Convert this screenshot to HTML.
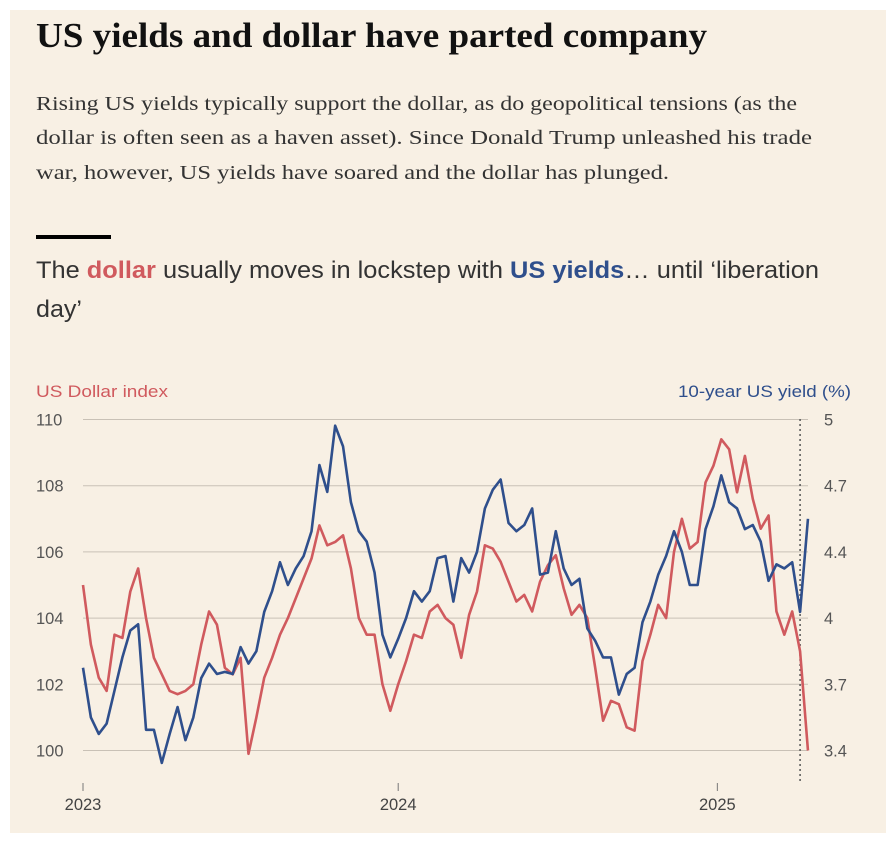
<!DOCTYPE html>
<html><head><meta charset="utf-8">
<style>
body{margin:0;background:#fff;width:896px;height:844px;overflow:hidden}
#panel{position:absolute;left:10px;top:10px;width:876px;height:823px;background:#f8f0e4}
#bar{position:absolute;left:26px;top:225px;width:75px;height:4px;background:#000}
svg{position:absolute;left:0;top:0}
</style></head><body>
<div id="panel">
<div id="bar"></div>
</div>
<svg id="chart" width="896" height="844">
<text x="36" y="47" textLength="671" lengthAdjust="spacingAndGlyphs" font-family="Liberation Serif,serif" font-weight="bold" font-size="35" fill="#111">US yields and dollar have parted company</text>
<g font-family="Liberation Serif,serif" font-size="20.5" fill="#333">
<text x="36" y="110" textLength="761" lengthAdjust="spacingAndGlyphs">Rising US yields typically support the dollar, as do geopolitical tensions (as the</text>
<text x="36" y="144" textLength="776" lengthAdjust="spacingAndGlyphs">dollar is often seen as a haven asset). Since Donald Trump unleashed his trade</text>
<text x="36" y="179" textLength="633" lengthAdjust="spacingAndGlyphs">war, however, US yields have soared and the dollar has plunged.</text>
</g>
<g font-family="Liberation Sans,sans-serif" font-size="24" fill="#333">
<text x="36" y="278" textLength="783" lengthAdjust="spacingAndGlyphs">The <tspan fill="#d05a5e" font-weight="bold">dollar</tspan> usually moves in lockstep with <tspan fill="#2f4f8c" font-weight="bold">US yields</tspan>… until ‘liberation</text>
<text x="36" y="317" textLength="46" lengthAdjust="spacingAndGlyphs">day’</text>
</g>
</svg>
<script>
const dollar=[105.0,103.2,102.2,101.8,103.5,103.4,104.8,105.5,104.0,102.8,102.3,101.8,101.7,101.8,102.0,103.2,104.2,103.8,102.5,102.3,102.8,99.9,101.0,102.2,102.8,103.5,104.0,104.6,105.2,105.8,106.8,106.2,106.3,106.5,105.5,104.0,103.5,103.5,102.0,101.2,
102.0,102.7,103.5,103.4,104.2,104.4,104.0,103.8,102.8,104.1,104.8,106.2,106.1,105.7,105.1,104.5,104.7,104.2,105.1,105.6,105.9,104.9,104.1,104.4,104.0,102.5,100.9,101.5,101.4,100.7,100.6,102.7,103.5,104.4,104.0,106.0,107.0,106.1,106.3,108.1,108.6,109.4,109.1,107.8,108.9,107.6,106.7,107.1,104.2,103.5,104.2,103.0,100.0];
const yields=[3.80,3.56,3.48,3.53,3.69,3.85,3.98,4.01,3.50,3.50,3.34,3.48,3.61,3.45,3.56,3.75,3.82,3.77,3.78,3.77,3.90,3.82,3.88,4.07,4.17,4.31,4.20,4.28,4.34,4.46,4.78,4.65,4.97,4.87,4.60,4.46,4.41,4.26,3.96,3.85,
3.94,4.04,4.17,4.12,4.17,4.33,4.34,4.12,4.33,4.26,4.36,4.57,4.66,4.71,4.50,4.46,4.49,4.57,4.25,4.26,4.46,4.28,4.20,4.23,3.99,3.93,3.85,3.85,3.67,3.77,3.80,4.02,4.12,4.25,4.34,4.46,4.36,4.20,4.20,4.47,4.58,4.73,4.60,4.57,4.47,4.49,4.41,4.22,4.30,4.28,4.31,4.07,4.52];
const leftTicks=[100,102,104,106,108,110];
const rightTickLabels=["3.4","3.7","4","4.4","4.7","5"];
const yearLabels=["2023","2024","2025"];
const yearIndex=[0,40,80.5];
const liberationIndex=91;

const NS="http://www.w3.org/2000/svg";
const svg=document.getElementById('chart');
const X0=83,STEP=7.88,YTOP=419.5,YBOT=750.5;
const xs=i=>X0+i*STEP;
const yL=v=>YBOT-(v-100)/10*(YBOT-YTOP);
const yR=v=>YBOT-(v-3.4)/1.6*(YBOT-YTOP);
function mk(tag,a){const e=document.createElementNS(NS,tag);for(const k in a)e.setAttribute(k,a[k]);svg.appendChild(e);return e;}
const F='"Liberation Sans",sans-serif';
leftTicks.forEach((v,i)=>{
 const g=mk('line',{x1:83,x2:808,y1:yL(v),y2:yL(v),stroke:'#c9c1b6','stroke-width':1});
 
 
 const t=mk('text',{x:36,y:yL(v)+6,fill:'#555','font-family':F,'font-size':16.5});
 t.textContent=v;
 
 
 const r=mk('text',{x:824,y:yL(v)+6,fill:'#555','font-family':F,'font-size':16.5});
 r.textContent=rightTickLabels[i];
 
 
});
yearLabels.forEach((l,i)=>{
 const x=xs(yearIndex[i]);
 const tk=mk('line',{x1:x,x2:x,y1:783,y2:791,stroke:'#777','stroke-width':1});
 
 
 const t=mk('text',{x:x,y:810,fill:'#444','font-family':F,'font-size':16.5,'text-anchor':'middle'});
 t.textContent=l;
 
 
});
const lx=xs(liberationIndex);
const dl=mk('line',{x1:lx,x2:lx,y1:419,y2:782,stroke:'#555','stroke-width':1.5,'stroke-dasharray':'2 3'});


const pr=mk('polyline',{points:dollar.map((v,i)=>xs(i)+','+yL(v)).join(' '),fill:'none',stroke:'#d05a5e','stroke-width':2.6,'stroke-linejoin':'round'});


const pb=mk('polyline',{points:yields.map((v,i)=>xs(i)+','+yR(v)).join(' '),fill:'none',stroke:'#2f4f8c','stroke-width':2.6,'stroke-linejoin':'round'});


const lt=mk('text',{x:36,y:397,fill:'#d05a5e','font-family':F,'font-size':17,textLength:132,lengthAdjust:'spacingAndGlyphs'});
lt.textContent='US Dollar index';


const rt=mk('text',{x:678,y:397,fill:'#2f4f8c','font-family':F,'font-size':17,textLength:173,lengthAdjust:'spacingAndGlyphs'});
rt.textContent='10-year US yield (%)';


</script>
</body></html>
